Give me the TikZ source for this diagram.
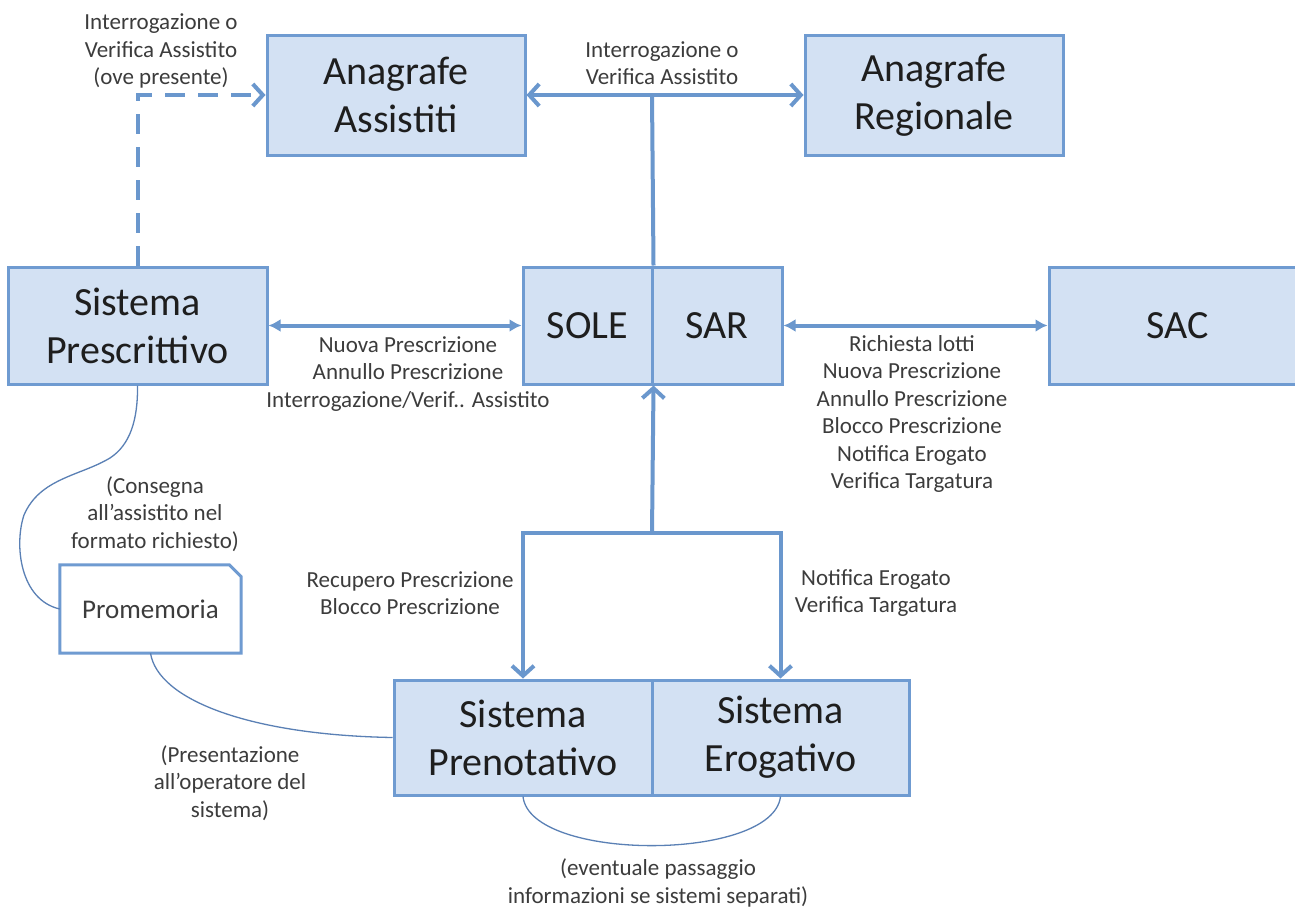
\documentclass[tikz,border=0pt]{standalone}
\usepackage{fontspec}
\setmainfont{Carlito}
\usetikzlibrary{arrows.meta}
\definecolor{boxfill}{HTML}{D3E1F3}
\definecolor{boxline}{HTML}{6F9BD1}
\definecolor{linkcol}{HTML}{6A97CD}
\definecolor{softcol}{HTML}{5A80B5}
\definecolor{txtdark}{HTML}{1E1E1E}
\definecolor{txtlab}{HTML}{3C3C3C}
\begin{document}
\begin{tikzpicture}[x=1pt,y=-1pt,
  sysbox/.style={draw=boxline, fill=boxfill, line width=3pt, rectangle, inner sep=0pt,
    minimum height=117pt, align=center, text=txtdark, font=\fontsize{40}{48}\selectfont},
  lab/.style={align=center, text=txtlab, font=\fontsize{23}{27.5}\selectfont, inner sep=0pt},
  conn/.style={draw=linkcol, line width=4pt},
  softlink/.style={draw=softcol, line width=1.3pt},
  chev/.tip={Straight Barb[length=10pt,width=22pt]},
  tri/.tip={Latex[length=12pt,width=13pt]}
]
\useasboundingbox (0,0) rectangle (1295,910);
\fill[white] (0,0) rectangle (1295,910);

% boxes
\node[sysbox, minimum width=258pt, minimum height=120pt] (AA) at (396,95) {Anagrafe\\Assistiti};
\node[sysbox, minimum width=258pt, minimum height=120pt] (AR) at (934,95) {Anagrafe\\Regionale};
\node[sysbox, minimum width=259pt] (SP) at (137.5,325.5) {Sistema\\Prescrittivo};
\node[sysbox, minimum width=129pt] (SOLE) at (587.5,325.5) {SOLE};
\node[sysbox, minimum width=130pt] (SAR) at (717,325.5) {SAR};
\node[sysbox, minimum width=258pt] (SAC) at (1178,325.5) {SAC};
\node[sysbox, minimum width=258pt, minimum height=115pt] (PREN) at (523,737.5) {Sistema\\Prenotativo};
\node[sysbox, minimum width=257pt, minimum height=115pt] (EROG) at (780.5,737.5) {Sistema\\Erogativo};

% promemoria
\node[minimum width=181pt, minimum height=88pt, inner sep=0pt, text=txtlab,
  font=\fontsize{27}{32}\selectfont] (PROM) at (150.5,609) {Promemoria};
\draw[draw=boxline, line width=3pt, line join=miter] (PROM.south west) -- (PROM.north west)
  -- ([xshift=-12pt]PROM.north east) -- ([yshift=-12pt]PROM.north east)
  -- (PROM.south east) -- cycle;

% connectors
\coordinate (J1) at (652,95);
\coordinate (J2) at (652,533);
\draw[conn, chev-chev] (AA) -- (AR);
\draw[conn] (J1) -- (SOLE.north east);
\draw[conn, dash pattern=on 20pt off 13pt, -chev] (SP.north) |- (AA.west);
\draw[conn, tri-tri] (SP) -- (SOLE);
\draw[conn, tri-tri] (SAR) -- (SAC);
\draw[conn, -chev] (J2) -- (SOLE.south east);
\draw[conn, -chev] (J2) -| (PREN.north);
\draw[conn, -chev] (J2) -| (EROG.north);

% thin curves
\draw[softlink] (SP.south) .. controls (138,420) and (130,445) .. (110,458)
  .. controls (80,476) and (40,478) .. (24,515)
  .. controls (14,545) and (20,600) .. (PROM.west);
\draw[softlink] (PROM.south) .. controls (158,700) and (250,735) .. (PREN.west);
\draw[softlink] (PREN.south) .. controls (530,862) and (773,862) .. (EROG.south);

% labels
\node[lab] (L1) at (161,51) {Interrogazione o\\Verifica Assistito\\(ove presente)};
\node[lab] (L2) at (662,63) {Interrogazione o\\Verifica Assistito};
\node[lab] (L3) at (408,374) {Nuova Prescrizione\\Annullo Prescrizione\\Interrogazione/Verif.. Assistito};
\node[lab] (L4) at (912,414) {Richiesta lotti\\Nuova Prescrizione\\Annullo Prescrizione\\Blocco Prescrizione\\Notifica Erogato\\Verifica Targatura};
\node[lab] (L5) at (155,514) {(Consegna\\all’assistito nel\\formato richiesto)};
\node[lab] (L6) at (410,593) {Recupero Prescrizione\\Blocco Prescrizione};
\node[lab] (L7) at (876,593) {Notifica Erogato\\Verifica Targatura};
\node[lab] (L8) at (230,783) {(Presentazione\\all’operatore del\\sistema)};
\node[lab] (L9) at (658,883) {(eventuale passaggio\\informazioni se sistemi separati)};
\end{tikzpicture}
\end{document}
